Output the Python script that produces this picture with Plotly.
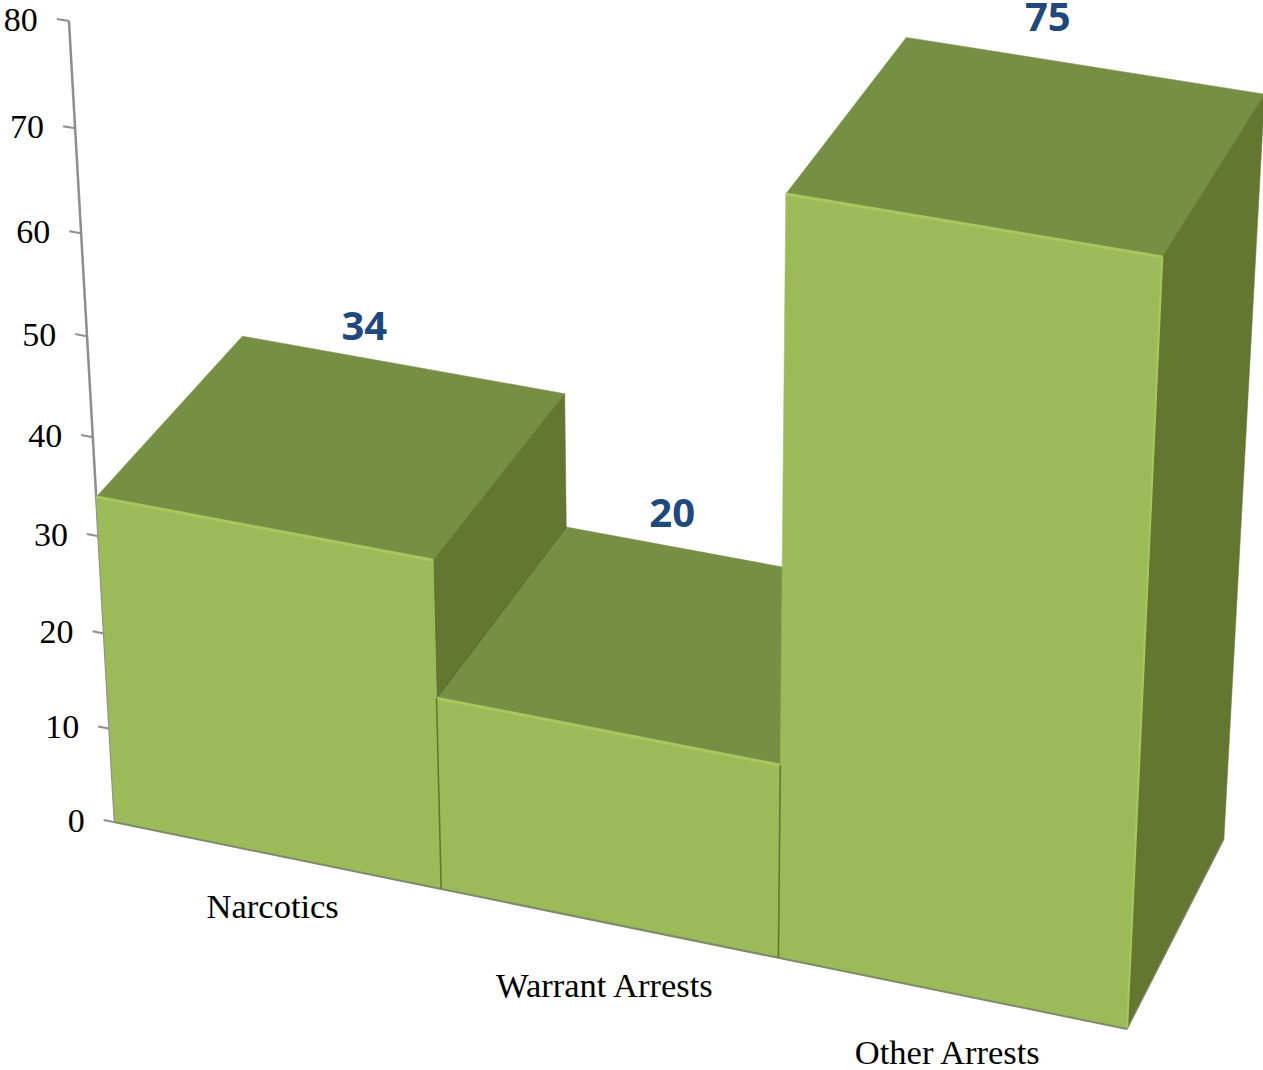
import numpy as np
import plotly.graph_objects as go

# --- data ---
categories = ["Narcotics", "Warrant Arrests", "Other Arrests"]
values = [34, 20, 75]
y_ticks = [0, 10, 20, 30, 40, 50, 60, 70, 80]

# --- camera: (category position, value, depth) -> page pixels ---
CAMERA = np.array([
    [319.2042648077646, -0.6384000016683645, 153.7033095477708, 114.88086421780253],
    [52.27856313885067, -10.036217426071772, -138.7439917204521, 822.3374688343015],
    [-0.016144946210130608, -0.0009338020512300593, 0.050287622224137934, 1.0],
])

def proj(x, y, z):
    h = CAMERA @ np.array([x, y, z, 1.0])
    return h[0] / h[2], h[1] / h[2]

FRONT, TOP, SIDE = "#9BBB59", "#778F45", "#647731"
HILITE, EDGE, AXIS = "#A6C85F", "#5F7A30", "#8E8E8E"
SERIF = "Liberation Serif"
fig = go.Figure()

def poly(corners, fill):
    p = [proj(*c) for c in corners]
    fig.add_trace(go.Scatter(
        x=[a for a, _ in p] + [p[0][0]], y=[b for _, b in p] + [p[0][1]],
        mode="lines", fill="toself", fillcolor=fill,
        line=dict(color=fill, width=0.5),
        hoverinfo="skip", showlegend=False))

def seg(a, b, color, width):
    p, q = proj(*a), proj(*b)
    fig.add_trace(go.Scatter(x=[p[0], q[0]], y=[p[1], q[1]], mode="lines",
                             line=dict(color=color, width=width),
                             hoverinfo="skip", showlegend=False))

def text(x, y, s, size, color, family, weight=400):
    fig.add_trace(go.Scatter(x=[x], y=[y], mode="text", text=[s], textposition="middle center",
                             textfont=dict(size=size, color=color, family=family, weight=weight),
                             hoverinfo="skip", showlegend=False))

# value axis and its ticks, on the left edge of the front plane
seg((0, 0, 0), (0, y_ticks[-1], 0), AXIS, 2.5)
for t in y_ticks:
    seg((-0.035, t, 0), (0, t, 0), AXIS, 2)
    px, py = proj(-0.035, t, 0)
    text(px - 19 - len(str(t)) * 8.5, py + 3, str(t), 34, "#000000", SERIF)

# bars, back to front in painter's order
for i, v in enumerate(values):
    l, r = i, i + 1
    poly([(r, 0, 0), (r, 0, 1), (r, v, 1), (r, v, 0)], SIDE)
    poly([(l, v, 0), (r, v, 0), (r, v, 1), (l, v, 1)], TOP)
    seg((r, v, 0), (r, v, 1), "#6A7F36", 1)
    if i == 1:
        seg((l, v, 0), (l, v, 1), "#5C7030", 1.2)
    poly([(l, 0, 0), (r, 0, 0), (r, v, 0), (l, v, 0)], FRONT)
    seg((l, v, 0), (r, v, 0), HILITE, 3)
    seg((l, 0, 0), (r, 0, 0), "#7F8A6B", 2)

# edges between neighbouring bars, drawn over the fronts
for i in range(len(values) - 1):
    seg((i + 1, 0, 0), (i + 1, min(values[i], values[i + 1]), 0), EDGE, 1.6)
seg((3, 0, 0), (3, values[2], 0), HILITE, 2)
seg((3, 0, 0), (3, 0, 1), "#7F8A6B", 1.2)

# data labels: above the back edge of each bar's top
label_offsets = [(-38, -35), (-57, -40), (-36, -45)]
for i, v in enumerate(values):
    bx, by = proj(i + 0.5, v, 1)
    dx, dy = label_offsets[i]
    text(bx + dx, by + dy, str(v), 40, "#1F497D", "Open Sans", weight=700)

# category labels: below the front edge of each bar
name_offsets = [54, 65, 62]
for i, c in enumerate(categories):
    fx, fy = proj(i + 0.5, 0, 0)
    text(fx - 4, fy + name_offsets[i], c, 34.5, "#000000", SERIF)

fig.update_layout(
    width=1263, height=1070, margin=dict(l=0, r=0, t=0, b=0),
    paper_bgcolor="#FFFFFF", plot_bgcolor="#FFFFFF", showlegend=False,
    xaxis=dict(range=[0, 1263], visible=False, fixedrange=True),
    yaxis=dict(range=[1070, 0], visible=False, fixedrange=True),
)
fig.write_html("out.html", config={"displayModeBar": False},
               post_script="document.body.style.margin='0';document.body.style.overflow='hidden';")
